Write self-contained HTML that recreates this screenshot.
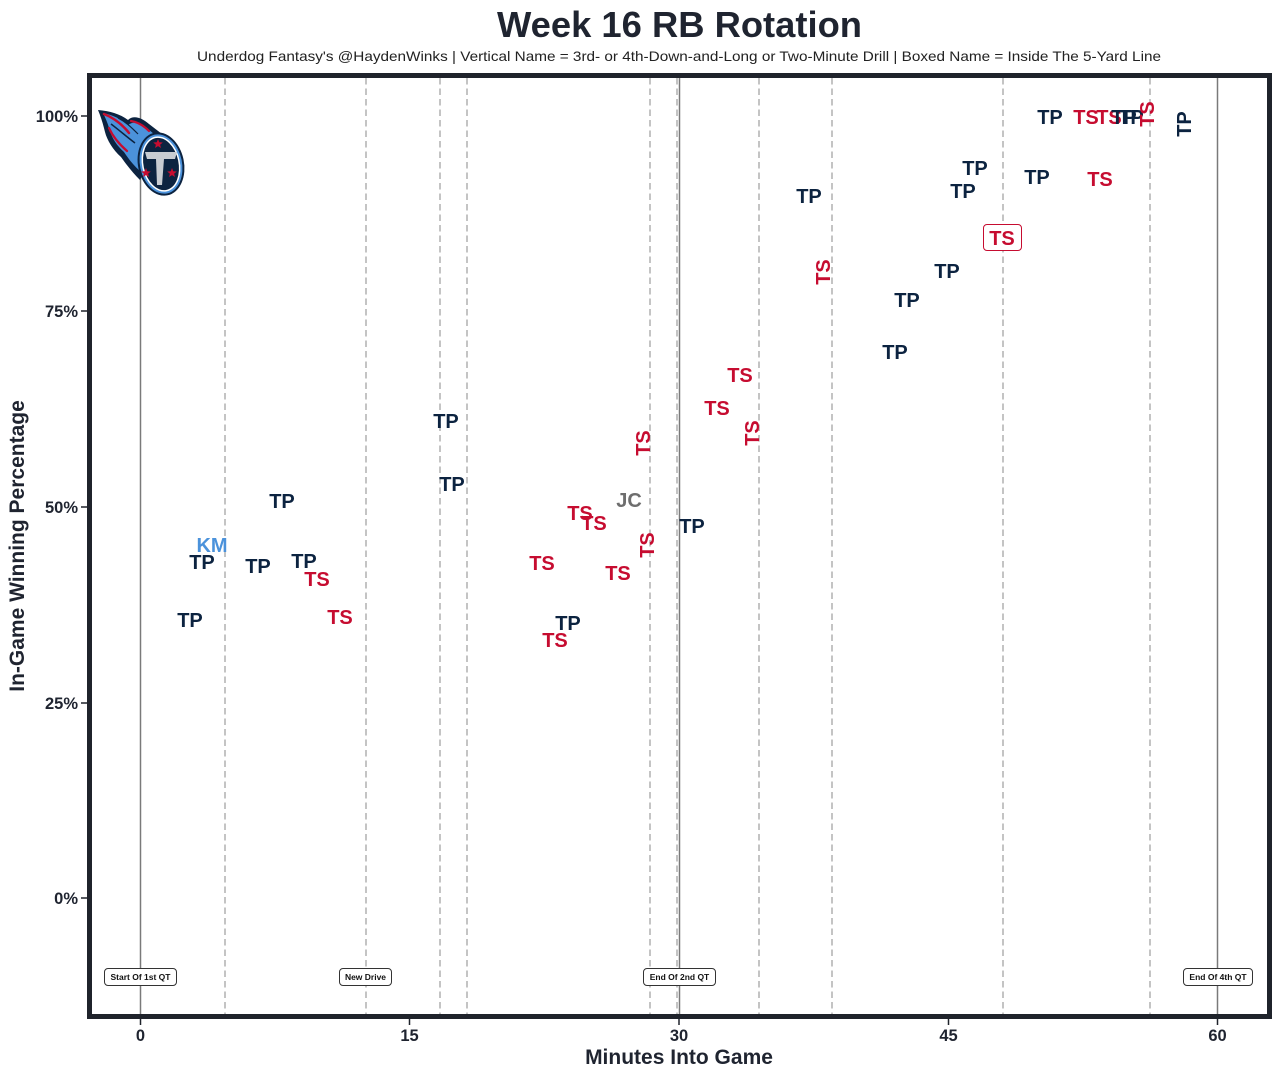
<!DOCTYPE html>
<html>
<head>
<meta charset="utf-8">
<style>
  html,body{margin:0;padding:0;background:#ffffff;}
  svg{display:block;}
  text{font-family:"Liberation Sans", Arial, sans-serif;}
  .lab{font-weight:bold;font-size:20px;text-anchor:middle;}
  .tp{fill:#0c2340;}
  .ts{fill:#c60c30;}
  .ann{font-weight:bold;font-size:8.5px;text-anchor:middle;fill:#111;}
  .tick{font-weight:bold;font-size:16.5px;fill:#1f2430;}
</style>
</head>
<body>
<svg width="1280" height="1077" viewBox="0 0 1280 1077" xmlns="http://www.w3.org/2000/svg">
  <rect x="0" y="0" width="1280" height="1077" fill="#ffffff"/>

  <!-- Title -->
  <text x="679.5" y="37" font-size="36" font-weight="bold" fill="#1f2430" text-anchor="middle" textLength="365" lengthAdjust="spacingAndGlyphs">Week 16 RB Rotation</text>
  <text x="679" y="61" font-size="14" fill="#222222" text-anchor="middle" textLength="964" lengthAdjust="spacingAndGlyphs">Underdog Fantasy's @HaydenWinks | Vertical Name = 3rd- or 4th-Down-and-Long or Two-Minute Drill | Boxed Name = Inside The 5-Yard Line</text>

  <!-- Dashed vertical lines -->
  <g stroke="#b0b0b0" stroke-width="1.5" stroke-dasharray="6.5,4">
    <line x1="225" y1="78" x2="225" y2="1014"/>
    <line x1="366" y1="78" x2="366" y2="1014"/>
    <line x1="440" y1="78" x2="440" y2="1014"/>
    <line x1="467" y1="78" x2="467" y2="1014"/>
    <line x1="650" y1="78" x2="650" y2="1014"/>
    <line x1="677" y1="78" x2="677" y2="1014"/>
    <line x1="759" y1="78" x2="759" y2="1014"/>
    <line x1="832" y1="78" x2="832" y2="1014"/>
    <line x1="1003" y1="78" x2="1003" y2="1014"/>
    <line x1="1150" y1="78" x2="1150" y2="1014"/>
  </g>
  <!-- Solid vertical lines -->
  <g stroke="#7a7a7a" stroke-width="1.5">
    <line x1="140.5" y1="78" x2="140.5" y2="1014"/>
    <line x1="679.5" y1="78" x2="679.5" y2="1014"/>
    <line x1="1217.5" y1="78" x2="1217.5" y2="1014"/>
  </g>

  <!-- Logo -->
  <g>
    <!-- flames -->
    <path d="M98,110 C110,111 120,114 128,120 C133,115 141,117 149,124 L162,134 L140,180 C132,172 126,164 121,157 C113,150 107,140 105,132 C103,124 101,117 98,110 Z" fill="#0c2340"/>
    <path d="M103,113 C113,115 121,119 128,125 C133,121 140,122 147,128 L155,135 L140,171 C133,165 128,158 124,152 C117,146 112,138 110,131 C108,124 106,119 103,113 Z" fill="#4b92db"/>
    <path d="M104,114 C114,118 122,124 129,133" stroke="#c60c30" stroke-width="2.5" fill="none" stroke-linecap="round"/>
    <path d="M131,121 C138,122 144,126 149,131" stroke="#c60c30" stroke-width="2.2" fill="none" stroke-linecap="round"/>
    <path d="M109,128 C113,137 119,144 127,151" stroke="#c60c30" stroke-width="2.2" fill="none" stroke-linecap="round"/>
    <path d="M111,124 C119,130 127,137 135,143" stroke="#0c2340" stroke-width="1.5" fill="none"/>
    <path d="M118,118 C126,122 132,128 138,134" stroke="#0c2340" stroke-width="1.2" fill="none"/>
    <!-- roundel -->
    <ellipse cx="161" cy="164" rx="23" ry="32" fill="#0c2340" transform="rotate(-12 161 164)"/>
    <ellipse cx="161" cy="164" rx="21" ry="30" fill="#4b92db" transform="rotate(-12 161 164)"/>
    <ellipse cx="161" cy="164" rx="19" ry="28" fill="#ffffff" transform="rotate(-12 161 164)"/>
    <ellipse cx="161" cy="164" rx="17.5" ry="26.5" fill="#0c2340" transform="rotate(-12 161 164)"/>
    <!-- T -->
    <polygon points="145,152 177,152 175,159 164,159 162,185 157,185 156,159 147,159" fill="#c8ccd2"/>
    <!-- stars -->
    <g fill="#c60c30">
      <polygon points="158,139 159.3,142.3 162.8,142.5 160.1,144.7 161,148 158,146.1 155,148 155.9,144.7 153.2,142.5 156.7,142.3"/>
      <polygon points="146,168 147.3,171.3 150.8,171.5 148.1,173.7 149,177 146,175.1 143,177 143.9,173.7 141.2,171.5 144.7,171.3"/>
      <polygon points="172,168 173.3,171.3 176.8,171.5 174.1,173.7 175,177 172,175.1 169,177 169.9,173.7 167.2,171.5 170.7,171.3"/>
    </g>
  </g>

  <!-- Frame -->
  <rect x="89.5" y="75.5" width="1180" height="941" fill="none" stroke="#1f232b" stroke-width="5"/>

  <!-- Y ticks -->
  <g stroke="#1f232b" stroke-width="1.5">
    <line x1="81" y1="116" x2="87" y2="116"/>
    <line x1="81" y1="311" x2="87" y2="311"/>
    <line x1="81" y1="507" x2="87" y2="507"/>
    <line x1="81" y1="703" x2="87" y2="703"/>
    <line x1="81" y1="898" x2="87" y2="898"/>
  </g>
  <g class="tick" text-anchor="end">
    <text x="78" y="122">100%</text>
    <text x="78" y="317">75%</text>
    <text x="78" y="513">50%</text>
    <text x="78" y="709">25%</text>
    <text x="78" y="904">0%</text>
  </g>
  <!-- X ticks -->
  <g stroke="#1f232b" stroke-width="1.5">
    <line x1="140.5" y1="1019" x2="140.5" y2="1025"/>
    <line x1="409.5" y1="1019" x2="409.5" y2="1025"/>
    <line x1="679" y1="1019" x2="679" y2="1025"/>
    <line x1="948.5" y1="1019" x2="948.5" y2="1025"/>
    <line x1="1217.5" y1="1019" x2="1217.5" y2="1025"/>
  </g>
  <g class="tick" text-anchor="middle">
    <text x="140.5" y="1041">0</text>
    <text x="409.5" y="1041">15</text>
    <text x="679" y="1041">30</text>
    <text x="948.5" y="1041">45</text>
    <text x="1217.5" y="1041">60</text>
  </g>

  <!-- Axis labels -->
  <text x="679" y="1064" font-size="21" font-weight="bold" fill="#1f2430" text-anchor="middle">Minutes Into Game</text>
  <text transform="translate(24,546) rotate(-90)" x="0" y="0" font-size="21" font-weight="bold" fill="#1f2430" text-anchor="middle">In-Game Winning Percentage</text>

  <!-- Annotation boxes -->
  <g fill="#ffffff" stroke="#333333" stroke-width="1">
    <rect x="104.5" y="968.5" width="72" height="17" rx="3.5"/>
    <rect x="339.5" y="968.5" width="52" height="17" rx="3.5"/>
    <rect x="643.5" y="968.5" width="72" height="17" rx="3.5"/>
    <rect x="1183.5" y="968.5" width="69" height="17" rx="3.5"/>
  </g>
  <text class="ann" x="140.5" y="980">Start Of 1st QT</text>
  <text class="ann" x="365.5" y="980">New Drive</text>
  <text class="ann" x="679.5" y="980">End Of 2nd QT</text>
  <text class="ann" x="1218" y="980">End Of 4th QT</text>

  <!-- Data labels -->
  <g class="lab">
    <text class="tp" x="190" y="627">TP</text>
    <text class="tp" x="202" y="569">TP</text>
    <text x="212" y="552" fill="#4b92db">KM</text>
    <text class="tp" x="258" y="573">TP</text>
    <text class="tp" x="282" y="508">TP</text>
    <text class="tp" x="304" y="568">TP</text>
    <text class="ts" x="317" y="586">TS</text>
    <text class="ts" x="340" y="624">TS</text>
    <text class="tp" x="446" y="428">TP</text>
    <text class="tp" x="452" y="491">TP</text>
    <text class="ts" x="542" y="570">TS</text>
    <text class="tp" x="568" y="630">TP</text>
    <text class="ts" x="555" y="647">TS</text>
    <text class="ts" x="580" y="520">TS</text>
    <text class="ts" x="594" y="530">TS</text>
    <text class="ts" x="618" y="580">TS</text>
    <text x="629" y="507" fill="#6e6e6e">JC</text>
    <text class="tp" x="692" y="533">TP</text>
    <text class="ts" x="717" y="415">TS</text>
    <text class="ts" x="740" y="382">TS</text>
    <text class="tp" x="809" y="203">TP</text>
    <text class="tp" x="895" y="359">TP</text>
    <text class="tp" x="907" y="307">TP</text>
    <text class="tp" x="947" y="278">TP</text>
    <text class="tp" x="963" y="198">TP</text>
    <text class="tp" x="975" y="175">TP</text>
    <rect x="983.5" y="224.5" width="38" height="26" rx="3.5" fill="#ffffff" stroke="#c60c30" stroke-width="1"/>
    <text class="ts" x="1002" y="245">TS</text>
    <text class="tp" x="1037" y="184">TP</text>
    <text class="ts" x="1100" y="186">TS</text>
    <text class="tp" x="1050" y="124">TP</text>
    <text class="ts" x="1086" y="124">TS</text>
    <text class="ts" x="1109" y="124">TS</text>
    <text class="tp" x="1124" y="124">TP</text>
    <text class="tp" x="1131" y="124">TP</text>
    <!-- vertical labels -->
    <text class="ts" transform="translate(643,443) rotate(-90)" x="0" y="7">TS</text>
    <text class="ts" transform="translate(647,545) rotate(-90)" x="0" y="7">TS</text>
    <text class="ts" transform="translate(752,433) rotate(-90)" x="0" y="7">TS</text>
    <text class="ts" transform="translate(823,272) rotate(-90)" x="0" y="7">TS</text>
    <text class="ts" transform="translate(1147,114) rotate(-90)" x="0" y="7">TS</text>
    <text class="tp" transform="translate(1184,124) rotate(-90)" x="0" y="7">TP</text>
  </g>
</svg>
</body>
</html>
